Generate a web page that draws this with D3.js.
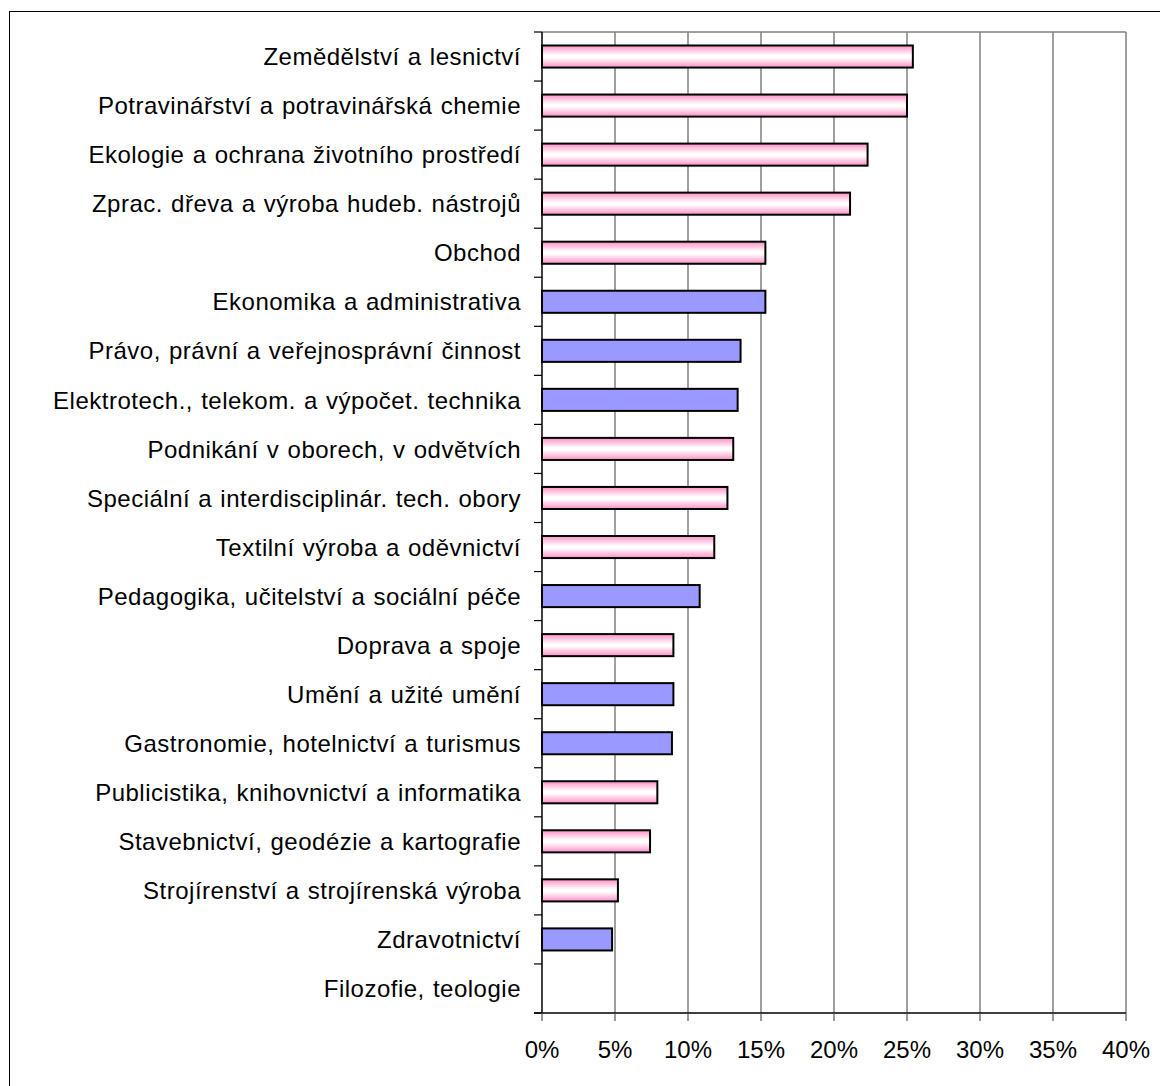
<!DOCTYPE html>
<html lang="cs">
<head>
<meta charset="UTF-8">
<title>Obory</title>
<script src="https://d3js.org/d3.v7.min.js"></script>
<style>
  body { margin: 0; background: #fff; }
  svg text { font-family: "Liberation Sans", Arial, sans-serif; fill: #000; }
  .cat-label { font-size: 24px; letter-spacing: 0.5px; word-spacing: 1px; }
  .val-label { font-size: 24px; }
</style>
</head>
<body>
<svg id="chart" width="1160" height="1086"></svg>
<script>
// categories top -> bottom
var categories = [
  "Zemědělství a lesnictví",
  "Potravinářství a potravinářská chemie",
  "Ekologie a ochrana životního prostředí",
  "Zprac. dřeva a výroba hudeb. nástrojů",
  "Obchod",
  "Ekonomika a administrativa",
  "Právo, právní a veřejnosprávní činnost",
  "Elektrotech., telekom. a výpočet. technika",
  "Podnikání v oborech, v odvětvích",
  "Speciální a interdisciplinár. tech. obory",
  "Textilní výroba a oděvnictví",
  "Pedagogika, učitelství a sociální péče",
  "Doprava a spoje",
  "Umění a užité umění",
  "Gastronomie, hotelnictví a turismus",
  "Publicistika, knihovnictví a informatika",
  "Stavebnictví, geodézie a kartografie",
  "Strojírenství a strojírenská výroba",
  "Zdravotnictví",
  "Filozofie, teologie"
];
// share in %
var values = [25.4, 25.0, 22.3, 21.1, 15.3, 15.3, 13.6, 13.4, 13.1, 12.7,
              11.8, 10.8, 9.0, 9.0, 8.9, 7.9, 7.4, 5.2, 4.8, 0];
// "p" = pink gradient bar, "b" = blue bar
var groups = ["p", "p", "p", "p", "p", "b", "b", "b", "p", "p",
              "p", "b", "p", "b", "b", "p", "p", "p", "b", "p"];
var xTicks = [0, 5, 10, 15, 20, 25, 30, 35, 40];

var svg = d3.select("#chart");
var plotLeft = 542, plotRight = 1126, plotTop = 32, plotBottom = 1013;

var x = d3.scaleLinear().domain([0, 40]).range([plotLeft, plotRight]);
var y = d3.scaleBand().domain(categories).range([plotTop, plotBottom])
  .paddingInner(0.55).paddingOuter(0.275);

var defs = svg.append("defs");
var grad = defs.append("linearGradient").attr("id", "pinkGrad")
  .attr("x1", 0).attr("y1", 0).attr("x2", 0).attr("y2", 1);
grad.append("stop").attr("offset", "0%").attr("stop-color", "#ff8fc4");
grad.append("stop").attr("offset", "45%").attr("stop-color", "#ffffff");
grad.append("stop").attr("offset", "55%").attr("stop-color", "#ffffff");
grad.append("stop").attr("offset", "100%").attr("stop-color", "#ff8fc4");

// outer chart border (right and bottom fall outside the picture)
svg.append("rect")
  .attr("x", 9.5).attr("y", 11.5)
  .attr("width", 1200).attr("height", 1200)
  .attr("fill", "none").attr("stroke", "#000").attr("stroke-width", 1);

// plot area top border
svg.append("line")
  .attr("x1", plotLeft).attr("x2", plotRight).attr("y1", plotTop).attr("y2", plotTop)
  .attr("stroke", "#808080").attr("stroke-width", 1.5);

// vertical gridlines
svg.append("g").selectAll("line")
  .data(xTicks.filter(d => d > 0))
  .join("line")
    .attr("x1", d => x(d)).attr("x2", d => x(d))
    .attr("y1", plotTop).attr("y2", plotBottom)
    .attr("stroke", "#808080").attr("stroke-width", 1.5);

// bars
svg.append("g").selectAll("rect")
  .data(categories.map((c, i) => ({c: c, v: values[i], g: groups[i]})).filter(d => d.v > 0))
  .join("rect")
    .attr("x", x(0))
    .attr("y", d => y(d.c))
    .attr("width", d => x(d.v) - x(0))
    .attr("height", y.bandwidth())
    .attr("fill", d => d.g === "p" ? "url(#pinkGrad)" : "#9999ff")
    .attr("stroke", "#000").attr("stroke-width", 2);

// category axis
var yAxis = svg.append("g").attr("transform", "translate(" + plotLeft + ",0)");
yAxis.append("line")
  .attr("x1", 0).attr("x2", 0).attr("y1", plotTop).attr("y2", plotBottom)
  .attr("stroke", "#000").attr("stroke-width", 1.5);
var bounds = categories.map(c => y(c) - y.step() * y.paddingInner() / 2);
bounds.push(plotBottom);
yAxis.selectAll("line.tick")
  .data(bounds)
  .join("line")
    .attr("class", "tick")
    .attr("x1", -8).attr("x2", 0)
    .attr("y1", d => d).attr("y2", d => d)
    .attr("stroke", "#000").attr("stroke-width", 1.2);
yAxis.selectAll("text")
  .data(categories)
  .join("text")
    .attr("class", "cat-label")
    .attr("x", -21)
    .attr("y", d => y(d) + y.bandwidth() / 2)
    .attr("dy", "0.36em")
    .attr("text-anchor", "end")
    .text(d => d);

// value axis
var xAxis = svg.append("g");
xAxis.append("line")
  .attr("x1", plotLeft - 8).attr("x2", plotRight).attr("y1", plotBottom).attr("y2", plotBottom)
  .attr("stroke", "#000").attr("stroke-width", 1.5);
xAxis.selectAll("line.tick")
  .data(xTicks)
  .join("line")
    .attr("class", "tick")
    .attr("x1", d => x(d)).attr("x2", d => x(d))
    .attr("y1", plotBottom).attr("y2", plotBottom + 8)
    .attr("stroke", "#555").attr("stroke-width", 1.2);
xAxis.selectAll("text")
  .data(xTicks)
  .join("text")
    .attr("class", "val-label")
    .attr("x", d => x(d))
    .attr("y", 1049)
    .attr("dy", "0.36em")
    .attr("text-anchor", "middle")
    .text(d => d + "%");
</script>
</body>
</html>
